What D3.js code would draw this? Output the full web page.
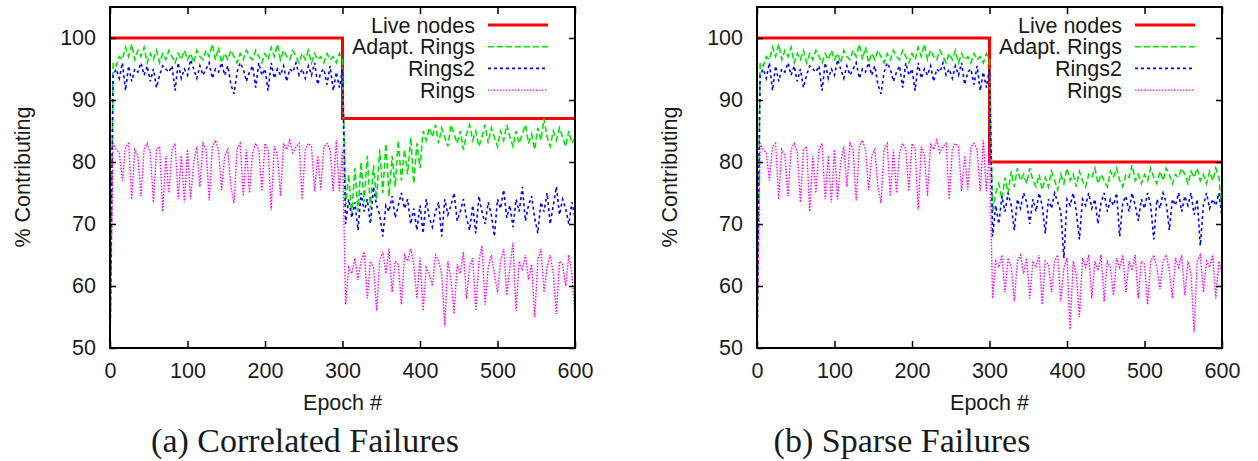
<!DOCTYPE html>
<html>
<head>
<meta charset="utf-8">
<script src="https://cdn.jsdelivr.net/npm/d3@7"></script>
<style>
body { margin: 0; background: #fff; }
text { font-family: "Liberation Sans", Arial, sans-serif; fill: #1a1a1a; font-size: 21.5px; }
text.caption { font-family: "Liberation Serif", "Times New Roman", serif; font-size: 34px; }
</style>
</head>
<body>
<svg id="chart" width="1258" height="461"></svg>
<script>
// Contributing nodes per epoch, sampled every 4 epochs.
// Failure happens at epoch 300; first 300 epochs are the same run in both plots.
var step = 4;
var failEpoch = 300;

var xTicks = [0, 100, 200, 300, 400, 500, 600];
var yTicks = [50, 60, 70, 80, 90, 100];
var seriesNames = ["Live nodes", "Adapt. Rings", "Rings2", "Rings"];

var liveEpochs = [0, 300, 600];
var liveA = [100, 87, 87];
var liveB = [100, 80, 80];

// epochs 0..300
var adaptPre = [
  50, 96, 95.5, 97, 96.5, 98.5, 97, 99, 96.5, 98,
  97, 98.5, 96, 97.5, 96.5, 98, 96, 97.5, 96.5, 98,
  97, 96, 97.5, 96.5, 98, 96.5, 97.5, 96, 98, 97,
  96.5, 98, 97, 99, 96.5, 98.5, 96, 97.5, 96.5, 98,
  97, 96, 97.5, 96.5, 98, 97, 96.5, 98, 97, 96,
  97.5, 96.5, 98.5, 97, 99, 96.5, 98, 97, 96.5, 98,
  97, 96, 97.5, 96.5, 98, 96, 97.5, 96.5, 97, 96,
  97.5, 96.5, 97, 96, 97.5, 96.5
];
var rings2Pre = [
  50, 94, 95, 93.5, 96, 91.5, 95.5, 93, 95, 94.5,
  96, 94, 95.5, 93, 95, 92, 94, 95.5, 95, 94.5,
  95.5, 91.5, 96, 93.5, 95, 94, 96.5, 95, 93.5, 95.5,
  94, 95, 96, 93.5, 95, 94.5, 96, 94, 95.5, 92.5,
  91, 94.5, 96, 95, 93, 94.5, 95.5, 92, 96, 94,
  95, 91.5, 96, 93.5, 95, 94, 95.5, 93, 95, 94.5,
  96, 94, 95, 93.5, 95.5, 94, 96, 92.5, 94.5, 95,
  92.5, 95.5, 91.5, 94.5, 92, 95
];
var ringsPre = [
  50, 83, 82, 81.5, 77, 82.5, 83, 74, 82, 81,
  74.5, 82, 83, 81.5, 73.5, 82, 82.5, 72, 81, 75,
  82, 83, 74, 81, 73.5, 82, 74, 80, 82.5, 76,
  83, 82, 73.8, 82.5, 83.5, 82, 75.5, 81, 82, 76,
  73.4, 82, 83, 74.5, 82, 75, 81.5, 83, 82, 75.3,
  83, 82, 72.3, 82.5, 81, 74.5, 83, 82, 83.5, 81.5,
  82.5, 83, 74, 82, 83, 82.5, 75.3, 81, 75.5, 82.5,
  83, 82, 75.3, 83.5, 75.3, 82
];

// (a) correlated failures, epochs 304..600
var adaptPostA = [
  73, 78, 71.5, 79, 72, 80, 73.5, 81, 72.5, 79.5,
  74, 82, 75, 83, 74.5, 81, 76, 83.5, 77, 82,
  78, 84, 76.5, 83, 79, 85, 83.5, 85.5, 84, 86,
  83, 85.5, 84, 82.5, 86, 84.5, 83, 85, 82, 84.5,
  86, 83.5, 85, 82.5, 84, 86, 83, 85.5, 84, 82.5,
  85, 83.5, 86, 84, 82.5, 85, 83, 84.5, 86, 83,
  84.5, 82, 85.5, 83.5, 87, 84, 82.5, 85, 83.5, 85.5,
  84, 82.5, 85, 83, 84
];
var rings2PostA = [
  70, 74, 71, 73.5, 69, 75, 72, 74, 70, 76,
  73, 71.5, 68, 73, 72, 74.5, 71, 73, 75, 72.5,
  74, 70, 72.5, 69, 73, 68.5, 74, 71, 69.5, 72,
  73.5, 68, 74, 71.5, 73, 75, 70.5, 72, 74, 71,
  69, 73, 68.5, 74.5, 72, 70, 73.5, 71.5, 68, 74,
  72.5, 75.5, 71, 73, 69.5, 74, 72, 76, 70.5, 73,
  74.5, 71, 68.5, 73.5, 72, 75, 70, 73, 76, 71.5,
  74, 72.5, 70, 73.5, 71
];
var ringsPostA = [
  57, 63, 62, 64.5, 61, 64, 65.5, 58, 64, 63,
  56, 64, 65.5, 62, 66, 59, 64, 63.5, 57, 65,
  64, 66, 63.5, 58, 64.5, 56, 63, 62, 60, 65,
  64, 62, 53.5, 64, 61, 55.5, 63.5, 62, 65.5, 58,
  63, 64.5, 56, 64, 66.5, 57, 63, 65, 62, 59,
  64, 66, 58.5, 63, 67, 56, 64, 62.5, 65, 61,
  63.5, 55, 64, 66, 59, 63, 65, 62, 55.5, 64,
  63.5, 60, 65, 62, 55
];

// (b) sparse failures, epochs 304..600
var adaptPostB = [
  72, 75, 76.5, 74, 77.5, 75, 78.5, 76, 79, 77,
  78, 76.5, 79, 77, 76, 78, 75.5, 77.5, 76, 78.5,
  77, 75.5, 78, 76.5, 79, 77, 78, 76, 78.5, 77,
  76, 78, 77.5, 79, 76.5, 78, 77, 76, 78.5, 77.5,
  79, 77, 76, 78, 77.5, 79.5, 77, 78, 76.5, 78,
  77, 79, 77.5, 76.5, 78.5, 77, 79, 78, 76.5, 78,
  77.5, 79, 78, 76.5, 78.5, 77.5, 79, 77, 78, 76.5,
  78.5, 77, 79, 77.5, 72
];
var rings2PostB = [
  68, 73, 70, 74.5, 72, 75, 73, 69, 74, 72.5,
  75, 73.5, 70, 74, 72, 75, 73, 68.5, 74, 72.5,
  75, 73.5, 72, 64.5, 74, 73, 75, 72, 67.5, 74,
  73, 75, 72.5, 74, 70, 73.5, 75, 72, 74, 73,
  75, 68, 73.5, 74.5, 72, 75, 73, 70.5, 74, 72.5,
  75, 73, 67.5, 74, 72.5, 75, 73.5, 69, 74, 73,
  75, 72, 74.5, 73, 75, 71.5, 74, 66.5, 73, 75,
  72.5, 74, 73, 75, 71
];
var ringsPostB = [
  58, 64, 63, 65, 59, 64.5, 63, 57.5, 64, 65,
  62, 64.5, 58, 64, 63, 65, 57, 64, 63.5, 59,
  64, 65, 57.5, 63, 64.5, 53, 64, 62, 55, 64.5,
  63, 65, 58, 64, 62.5, 65, 57.5, 64, 63, 58.5,
  64.5, 63, 65, 59, 64, 62.5, 65, 58, 64, 63.5,
  57, 64, 65, 63, 59.5, 64, 65, 62.5, 58, 64.5,
  63, 65, 58.5, 64, 62, 52.5, 64, 65, 59, 64,
  63, 65, 58, 64, 62
];

var colors = ["#ff0000", "#00e600", "#0000ff", "#ff00ff"];
var dashes = [null, "6,3", "3,3", "1.5,1.5"];
var widths = [3, 1.6, 1.6, 1.4];

var toPoints = function (pre, post) {
  var pts = pre.map(function (v, i) { return [i * step, v]; });
  return pts.concat(post.map(function (v, i) { return [failEpoch + (i + 1) * step, v]; }));
};

var panels = [
  { left: 110, captionX: 305, caption: "(a) Correlated Failures",
    live: liveA, adapt: adaptPostA, rings2: rings2PostA, rings: ringsPostA },
  { left: 757, captionX: 902, caption: "(b) Sparse Failures",
    live: liveB, adapt: adaptPostB, rings2: rings2PostB, rings: ringsPostB }
];

var svg = d3.select("#chart");
svg.append("rect").attr("width", 1258).attr("height", 461).attr("fill", "#fff");

var plotW = 465, plotTop = 7, plotBottom = 348;

panels.forEach(function (p, pi) {
  var x = d3.scaleLinear().domain([0, 600]).range([p.left, p.left + plotW]);
  var y = d3.scaleLinear().domain([50, 105]).range([plotBottom, plotTop]);
  var g = svg.append("g");

  var clipId = "clip" + pi;
  g.append("clipPath").attr("id", clipId)
    .append("rect").attr("x", p.left).attr("y", plotTop)
    .attr("width", plotW).attr("height", plotBottom - plotTop);

  var series = [
    liveEpochs.map(function (e, i) { return [e, p.live[i]]; }),
    toPoints(adaptPre, p.adapt),
    toPoints(rings2Pre, p.rings2),
    toPoints(ringsPre, p.rings)
  ];

  var line = d3.line().x(function (d) { return x(d[0]); }).y(function (d) { return y(d[1]); });
  var stepLine = d3.line().curve(d3.curveStepAfter)
    .x(function (d) { return x(d[0]); }).y(function (d) { return y(d[1]); });

  var data = g.append("g").attr("clip-path", "url(#" + clipId + ")");
  series.forEach(function (s, i) {
    data.append("path")
      .attr("d", i === 0 ? stepLine(s) : line(s))
      .attr("fill", "none")
      .attr("stroke", colors[i])
      .attr("stroke-width", widths[i])
      .attr("stroke-dasharray", dashes[i]);
  });

  // axes, gnuplot style: ticks inward on all four sides
  g.append("g").attr("transform", "translate(0," + plotBottom + ")")
    .call(d3.axisBottom(x).tickValues(xTicks).tickSizeInner(-7).tickSizeOuter(0).tickPadding(15))
    .call(function (a) { a.select(".domain").remove(); });
  g.append("g").attr("transform", "translate(0," + plotTop + ")")
    .call(d3.axisTop(x).tickValues(xTicks).tickSizeInner(-7).tickSizeOuter(0).tickFormat(""))
    .call(function (a) { a.select(".domain").remove(); });
  g.append("g").attr("transform", "translate(" + p.left + ",0)")
    .call(d3.axisLeft(y).tickValues(yTicks).tickSizeInner(-6).tickSizeOuter(0).tickPadding(14))
    .call(function (a) { a.select(".domain").remove(); });
  g.append("g").attr("transform", "translate(" + (p.left + plotW) + ",0)")
    .call(d3.axisRight(y).tickValues(yTicks).tickSizeInner(-6).tickSizeOuter(0).tickFormat(""))
    .call(function (a) { a.select(".domain").remove(); });

  g.selectAll(".tick line").attr("stroke", "#000").attr("stroke-width", 1.5);
  g.selectAll(".tick text").attr("font-size", null).attr("font-family", null).attr("fill", "#1a1a1a");

  g.append("rect")
    .attr("x", p.left).attr("y", plotTop).attr("width", plotW).attr("height", plotBottom - plotTop)
    .attr("fill", "none").attr("stroke", "#000").attr("stroke-width", 2);

  // legend
  var leg = g.append("g");
  seriesNames.forEach(function (name, i) {
    var ly = 25 + i * 21.7;
    leg.append("text").attr("x", p.left + 365).attr("y", ly).attr("dy", "0.35em")
      .attr("text-anchor", "end").text(name);
    leg.append("line")
      .attr("x1", p.left + 378).attr("x2", p.left + 438).attr("y1", ly).attr("y2", ly)
      .attr("stroke", colors[i]).attr("stroke-width", widths[i])
      .attr("stroke-dasharray", dashes[i]);
  });

  // axis titles and caption
  g.append("text").attr("x", p.left + plotW / 2).attr("y", 410)
    .attr("text-anchor", "middle").text("Epoch #");
  g.append("text")
    .attr("transform", "translate(" + (p.left - 88) + ",177) rotate(-90)")
    .attr("dy", "0.35em").attr("text-anchor", "middle").text("% Contributing");
  g.append("text").attr("class", "caption").attr("x", p.captionX).attr("y", 452)
    .attr("text-anchor", "middle").text(p.caption);
});
</script>
</body>
</html>
